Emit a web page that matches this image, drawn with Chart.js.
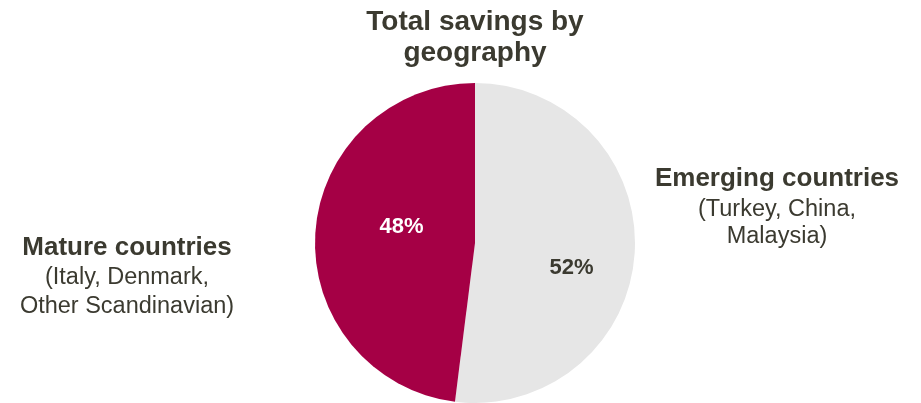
<!DOCTYPE html>
<html>
<head>
<meta charset="utf-8">
<script src="https://cdn.jsdelivr.net/npm/chart.js@4"></script>
<style>
  html, body { margin: 0; padding: 0; background: #fff; }
  #wrap { width: 921px; height: 403px; }
</style>
</head>
<body>
<div id="wrap"><canvas id="grafica" width="921" height="403"></canvas></div>
<script>
// datos del gráfico
const categories = ["Emerging countries", "Mature countries"];
const subLabels = [["(Turkey, China,", "Malaysia)"], ["(Italy, Denmark,", "Other Scandinavian)"]];
const shares = [52, 48];
const titleLines = ["Total savings by", "geography"];

const colores = ["#e6e6e6", "#a50045"];
const textoOscuro = "#3b3a30";
const fuente = "'Liberation Sans', Arial, sans-serif";

// posiciones de las etiquetas externas (centro x, línea base de cada línea)
const etiquetasPos = [{ x: 777, y: [186, 216, 243] }, { x: 127, y: [255, 284, 313] }];
// posiciones de los porcentajes relativas al centro del pastel (fracción del radio)
const pctOffset = [{ dx: 0.603, dy: 0.194 }, { dx: -0.459, dy: -0.0625 }];
const pctColor = ["#3b3a30", "#ffffff"];

const textosPlugin = {
    id: "textos",
    afterDraw(chart) {
        const c = chart.ctx;
        const arc = chart.getDatasetMeta(0).data[0];
        const cx = arc.x, cy = arc.y, r = arc.outerRadius;
        c.save();
        c.textAlign = "center";
        c.textBaseline = "alphabetic";

        // título
        c.fillStyle = textoOscuro;
        c.font = "bold 28px " + fuente;
        titleLines.forEach((t, i) => c.fillText(t, 475, 30 + i * 31));

        // etiquetas externas
        categories.forEach((cat, i) => {
            const p = etiquetasPos[i];
            c.fillStyle = textoOscuro;
            c.font = "bold 26px " + fuente;
            c.fillText(cat, p.x, p.y[0]);
            c.font = "23.5px " + fuente;
            subLabels[i].forEach((s, j) => c.fillText(s, p.x, p.y[j + 1]));
        });

        // porcentajes
        c.font = "bold 22px " + fuente;
        shares.forEach((v, i) => {
            c.fillStyle = pctColor[i];
            c.fillText(v + "%", cx + pctOffset[i].dx * r, cy + pctOffset[i].dy * r);
        });
        c.restore();
    }
};

const ctx = document.getElementById("grafica").getContext("2d");
new Chart(ctx, {
    type: "pie",
    data: {
        labels: categories,
        datasets: [{
            data: shares,
            backgroundColor: colores,
            borderWidth: 0
        }]
    },
    options: {
        responsive: false,
        animation: false,
        layout: { padding: { top: 83, bottom: 0, left: 200, right: 171 } },
        plugins: {
            legend: { display: false },
            tooltip: { enabled: false },
            title: { display: false }
        }
    },
    plugins: [textosPlugin]
});
</script>
</body>
</html>
